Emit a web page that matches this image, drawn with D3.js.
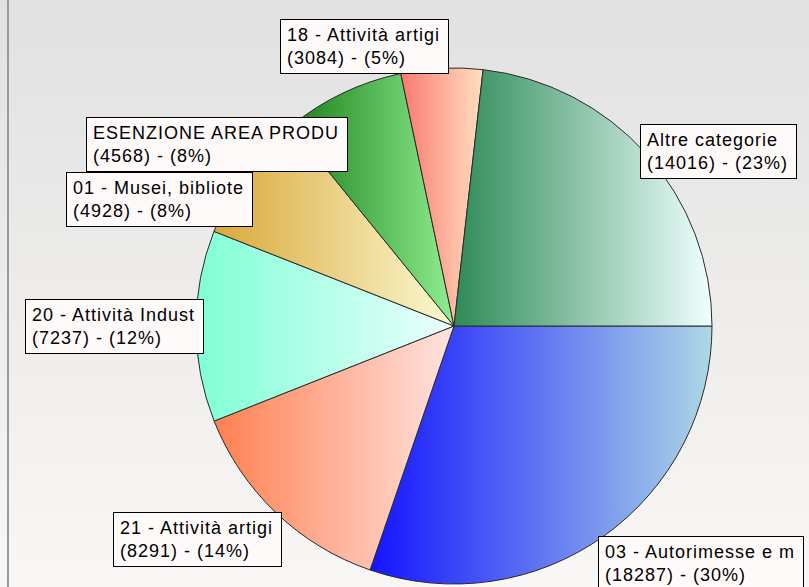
<!DOCTYPE html>
<html>
<head>
<meta charset="utf-8">
<script src="https://cdn.jsdelivr.net/npm/d3@7"></script>
<style>
    html, body { margin: 0; padding: 0; background: #fff; }
    svg { display: block; }
    .lbl text { font-family: "Liberation Sans", Arial, sans-serif; font-size: 18px; letter-spacing: 1px; fill: #000; }
</style>
</head>
<body>
<div id="chart"></div>
<script>
// Chart data
const categories = [
    "03 - Autorimesse e m",
    "21 - Attività artigi",
    "20 - Attività Indust",
    "01 - Musei, bibliote",
    "ESENZIONE AREA PRODU",
    "18 - Attività artigi",
    "Altre categorie"
];
const values = [18287, 8291, 7237, 4928, 4568, 3084, 14016];

// Gradient colours for each slice (left -> right)
const colorFrom = ["#1414ff", "#ff7f50", "#7fffd4", "#daa83a", "#1a801a", "#fa7a70", "#2e8b57"];
const colorTo = ["#add8e6", "#ffe4e1", "#ecfffd", "#fafad2", "#90ee90", "#ffdfc0", "#f0ffff"];

// Vertical placement of each label box relative to its anchor (fraction of box height above)
const labelVAlign = [-0.08, -0.06, 0.5, 0.08, -0.36, 1.0, 0.62];

const width = 809;
const height = 587;
const cx = 454;
const cy = 326;
const radius = 258;

const svg = d3.select("#chart")
    .append("svg")
    .attr("width", width)
    .attr("height", height);

const defs = svg.append("defs");

// Background
const bg = defs.append("linearGradient")
    .attr("id", "bg")
    .attr("x1", 0).attr("y1", 0)
    .attr("x2", 0).attr("y2", 1);
bg.append("stop").attr("offset", "0%").attr("stop-color", "#e1e1e1");
bg.append("stop").attr("offset", "100%").attr("stop-color", "#f9f7f5");

svg.append("rect")
    .attr("width", width)
    .attr("height", height)
    .attr("fill", "url(#bg)");

svg.append("line")
    .attr("x1", 8).attr("x2", 8)
    .attr("y1", 0).attr("y2", height)
    .attr("stroke", "#9a9a9a")
    .attr("stroke-width", 2);

// Slice gradients
categories.forEach(function(c, i) {
    const g = defs.append("linearGradient")
        .attr("id", "slice" + i)
        .attr("x1", 0).attr("y1", 0)
        .attr("x2", 1).attr("y2", 0);
    g.append("stop").attr("offset", "0%").attr("stop-color", colorFrom[i]);
    g.append("stop").attr("offset", "100%").attr("stop-color", colorTo[i]);
});

const total = d3.sum(values);

const pie = d3.pie()
    .sort(null)
    .startAngle(Math.PI / 2)
    .endAngle(Math.PI / 2 + 2 * Math.PI);

const arc = d3.arc()
    .innerRadius(0)
    .outerRadius(radius);

const arcs = pie(values);

const g = svg.append("g")
    .attr("transform", "translate(" + cx + "," + cy + ")");

g.selectAll("path")
    .data(arcs)
    .enter()
    .append("path")
    .attr("d", arc)
    .attr("fill", function(d, i) { return "url(#slice" + i + ")"; })
    .attr("stroke", "#2a2a2a")
    .attr("stroke-width", 1)
    .attr("stroke-linejoin", "round");

// Labels
const labelRadius = radius - 5;

arcs.forEach(function(d, i) {
    const mid = (d.startAngle + d.endAngle) / 2;
    const px = cx + labelRadius * Math.sin(mid);
    const py = cy - labelRadius * Math.cos(mid);

    const lbl = svg.append("g").attr("class", "lbl");
    const box = lbl.append("rect")
        .attr("fill", "#fffafa")
        .attr("stroke", "#000")
        .attr("stroke-width", 1);

    const pct = Math.round(d.value / total * 100);
    const t1 = lbl.append("text").text(categories[i]);
    const t2 = lbl.append("text").text("(" + d.value + ") - (" + pct + "%)");

    const w = Math.max(t1.node().getComputedTextLength(), t2.node().getComputedTextLength()) + 15;
    const h = 54;

    let left;
    if (Math.sin(mid) >= 0) {
        left = px - 3;
    } else {
        left = px - w + 2;
    }
    if (Math.abs(Math.sin(mid)) < 0.1) {
        left = px - w + 6;
    }
    const top = py - labelVAlign[i] * h;

    box.attr("x", Math.round(left) + 0.5)
        .attr("y", Math.round(top) + 0.5)
        .attr("width", Math.round(w))
        .attr("height", h);

    t1.attr("x", Math.round(left) + 7).attr("y", Math.round(top) + 22);
    t2.attr("x", Math.round(left) + 7).attr("y", Math.round(top) + 45);
});
</script>
</body>
</html>
